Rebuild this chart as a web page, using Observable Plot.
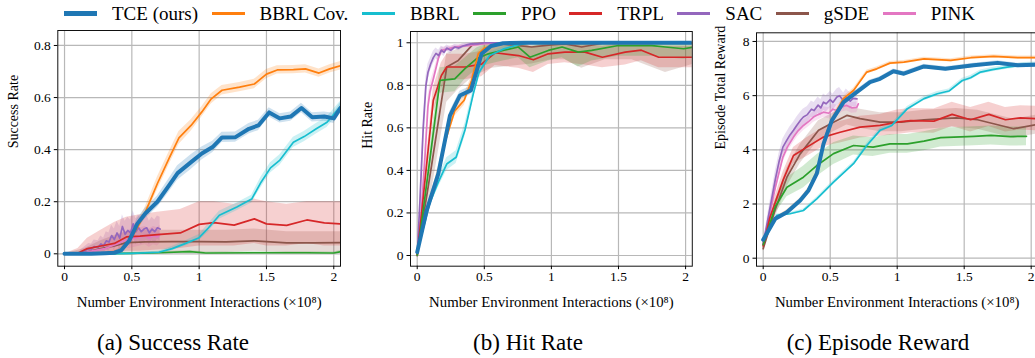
<!DOCTYPE html>
<html><head><meta charset="utf-8">
<script src="https://cdn.jsdelivr.net/npm/d3@7"></script>
<script src="https://cdn.jsdelivr.net/npm/@observablehq/plot@0.6"></script>
<style>
html,body{margin:0;padding:0;background:#fff;}
body{width:1035px;height:358px;overflow:hidden;position:relative;font-family:"Liberation Serif","Times New Roman",serif;color:#000;}
#legend{position:absolute;left:64px;top:0;height:27px;display:flex;align-items:center;gap:13.5px;font-size:19px;white-space:nowrap;}
.item{display:flex;align-items:center;gap:15px;}
.sw{width:33px;}
.panel{position:absolute;top:0;width:360px;height:320px;}
.panel svg{max-width:none !important;}
.panel svg text{font-family:"Liberation Serif","Times New Roman",serif;}
.cap{position:absolute;top:331px;font-size:23px;transform:translateX(-50%);white-space:nowrap;line-height:1;}
</style></head><body>
<div id="legend"></div>
<div id="pa" class="panel" style="left:0px"></div>
<div id="pb" class="panel" style="left:345px"></div>
<div id="pc" class="panel" style="left:690px"></div>
<div class="cap" style="left:173px">(a) Success Rate</div>
<div class="cap" style="left:528px">(b) Hit Rate</div>
<div class="cap" style="left:878px">(c) Episode Reward</div>
<script>
// ---- labels & ticks ----
const methods = ["TCE (ours)", "BBRL Cov.", "BBRL", "PPO", "TRPL", "SAC", "gSDE", "PINK"];
const colors = ["#1f77b4", "#ff7f0e", "#17becf", "#2ca02c", "#d62728", "#9467bd", "#8c564b", "#e377c2"];
const xTicks = [0, 0.5, 1, 1.5, 2];
const successTicks = [0, 0.2, 0.4, 0.6, 0.8];
const hitTicks = [0, 0.2, 0.4, 0.6, 0.8, 1];
const rewardTicks = [0, 2, 4, 6, 8];
const xLabel = "Number Environment Interactions (×10⁸)";
const serif = "'Liberation Serif','Times New Roman',serif";

// rows: [x (1e8), mean, spread]  or  [x, mean, lo, hi]
// ---- (a) Success Rate ----
const successTCE = [[0,0,0.003],[0.1,0,0.003],[0.2,0,0.003],[0.3,0.002,0.004],[0.37,0.004,0.006],[0.42,0.013,0.01],[0.48,0.05,0.015],[0.54,0.115,0.02],[0.6,0.155,0.02],[0.69,0.2,0.022],[0.77,0.258,0.025],[0.84,0.31,0.028],[0.94,0.352,0.028],[1.02,0.385,0.025],[1.1,0.41,0.022],[1.17,0.447,0.02],[1.27,0.448,0.02],[1.37,0.48,0.02],[1.44,0.493,0.02],[1.52,0.543,0.018],[1.6,0.52,0.018],[1.68,0.527,0.018],[1.76,0.56,0.018],[1.84,0.524,0.018],[1.93,0.527,0.018],[2.0,0.52,0.02],[2.05,0.56,0.02]];
const successBBRLCov = [[0,0,0.002],[0.2,0,0.002],[0.3,0.002,0.003],[0.4,0.01,0.008],[0.47,0.04,0.012],[0.54,0.1,0.018],[0.6,0.16,0.02],[0.69,0.27,0.025],[0.78,0.37,0.025],[0.85,0.445,0.025],[0.94,0.493,0.022],[1.02,0.545,0.02],[1.09,0.595,0.02],[1.17,0.628,0.018],[1.3,0.64,0.018],[1.41,0.652,0.018],[1.5,0.69,0.018],[1.58,0.706,0.016],[1.7,0.707,0.016],[1.79,0.71,0.016],[1.89,0.694,0.016],[1.97,0.71,0.016],[2.05,0.722,0.016]];
const successBBRL = [[0,0,0.002],[0.3,0,0.002],[0.5,0.002,0.002],[0.7,0.006,0.004],[0.8,0.02,0.008],[0.9,0.04,0.01],[1.0,0.062,0.012],[1.07,0.1,0.015],[1.15,0.148,0.015],[1.28,0.18,0.015],[1.39,0.21,0.015],[1.46,0.275,0.02],[1.53,0.33,0.02],[1.6,0.36,0.02],[1.7,0.428,0.02],[1.78,0.45,0.02],[1.87,0.48,0.02],[1.95,0.505,0.02],[2.05,0.566,0.02]];
const successPPO = [[0,0,0.002],[0.5,0.002,0.003],[0.7,0.004,0.004],[0.93,0.008,0.005],[1.05,0.003,0.004],[1.4,0.004,0.004],[1.8,0.004,0.004],[2.0,0.003,0.004],[2.05,0.008,0.005]];
const successTRPL = [[0,0,0,0],[0.1,0.003,0,0.02],[0.17,0.02,0,0.06],[0.27,0.03,0,0.09],[0.37,0.04,0,0.12],[0.46,0.065,0.01,0.14],[0.56,0.068,0.01,0.15],[0.69,0.074,0.015,0.16],[0.86,0.08,0.02,0.17],[1.0,0.113,0.03,0.2],[1.11,0.12,0.03,0.2],[1.26,0.11,0.03,0.19],[1.41,0.134,0.04,0.21],[1.5,0.115,0.03,0.2],[1.65,0.109,0.03,0.19],[1.8,0.13,0.04,0.2],[1.93,0.119,0.03,0.2],[2.05,0.115,0.03,0.2]];
const successSAC = [[0.12,0.005,0.01],[0.15,0.012,0.015],[0.18,0.02,0.02],[0.2,0.018,0.02],[0.22,0.028,0.025],[0.25,0.025,0.025],[0.27,0.038,0.03],[0.29,0.03,0.03],[0.31,0.05,0.035],[0.33,0.045,0.035],[0.35,0.07,0.04],[0.37,0.055,0.04],[0.39,0.08,0.045],[0.41,0.06,0.045],[0.43,0.105,0.045],[0.45,0.075,0.05],[0.47,0.09,0.05],[0.49,0.08,0.05],[0.51,0.115,0.05],[0.53,0.085,0.05],[0.55,0.1,0.05],[0.57,0.085,0.05],[0.59,0.095,0.05],[0.61,0.1,0.05],[0.63,0.08,0.045],[0.65,0.095,0.045],[0.67,0.085,0.045],[0.69,0.1,0.045],[0.71,0.095,0.045]];
const successGSDE = [[0,0,0,0],[0.15,0.005,0,0.02],[0.27,0.02,0,0.05],[0.37,0.03,0,0.07],[0.46,0.043,0,0.085],[0.6,0.046,0.005,0.09],[0.8,0.047,0.005,0.09],[1.0,0.047,0.005,0.09],[1.2,0.046,0.005,0.09],[1.41,0.05,0.01,0.095],[1.65,0.042,0.005,0.085],[1.85,0.042,0.005,0.085],[2.05,0.043,0.005,0.085]];
const successPINK = [[0.15,0.005,0.008],[0.2,0.01,0.012],[0.25,0.015,0.015],[0.3,0.02,0.02],[0.35,0.03,0.025],[0.4,0.04,0.03],[0.44,0.05,0.03],[0.48,0.055,0.035],[0.52,0.06,0.035],[0.56,0.065,0.035],[0.6,0.07,0.035],[0.63,0.06,0.035],[0.66,0.07,0.035],[0.69,0.065,0.035],[0.71,0.075,0.035]];

// ---- (b) Hit Rate ----
const hitTCE = [[0,0.016,0.01],[0.07,0.21,0.015],[0.157,0.384,0.02],[0.244,0.658,0.02],[0.318,0.752,0.02],[0.4,0.776,0.02],[0.48,0.948,0.015],[0.55,0.985,0.01],[0.64,0.998,0.005],[0.8,1,0.003],[1.0,1,0.003],[1.5,1,0.003],[2.05,1,0.003]];
const hitBBRLCov = [[0,0.02,0.01],[0.08,0.22,0.02],[0.16,0.4,0.025],[0.21,0.54,0.025],[0.28,0.68,0.025],[0.35,0.73,0.025],[0.405,0.823,0.02],[0.455,0.948,0.015],[0.5,0.975,0.01],[0.6,0.99,0.008],[0.7,1.0,0.005],[2.05,1.0,0.005]];
const hitBBRL = [[0,0.016,0.01],[0.095,0.25,0.02],[0.157,0.345,0.025],[0.22,0.43,0.03],[0.29,0.462,0.03],[0.356,0.59,0.03],[0.418,0.76,0.025],[0.46,0.86,0.02],[0.54,0.94,0.015],[0.64,0.97,0.01],[0.75,0.99,0.008],[0.85,1.0,0.005],[2.05,1.0,0.005]];
const hitPPO = [[0,0,0.01],[0.095,0.455,0.06],[0.17,0.823,0.06],[0.28,0.83,0.06],[0.356,0.878,0.05],[0.443,0.925,0.05],[0.53,0.948,0.05],[0.64,0.964,0.05],[0.754,0.98,0.05],[0.84,0.932,0.05],[0.977,0.964,0.05],[1.08,0.98,0.05],[1.2,0.956,0.07],[1.3,0.964,0.05],[1.5,0.987,0.05],[1.75,0.987,0.05],[1.85,0.98,0.05],[1.985,0.972,0.05],[2.06,0.98,0.05]];
const hitTRPL = [[0,0,0.01],[0.12,0.73,0.06],[0.18,0.846,0.06],[0.22,0.886,0.06],[0.356,0.886,0.06],[0.48,0.9,0.06],[0.58,0.953,0.06],[0.754,0.94,0.06],[0.866,0.92,0.06],[0.977,0.948,0.05],[1.1,0.956,0.05],[1.25,0.956,0.06],[1.38,0.932,0.05],[1.55,0.956,0.06],[1.67,0.965,0.05],[1.8,0.932,0.05],[2.06,0.932,0.05]];
const hitSAC = [[0,0,0.01],[0.02,0.25,0.05],[0.045,0.6,0.05],[0.065,0.8,0.04],[0.08,0.86,0.04],[0.1,0.9,0.03],[0.12,0.93,0.03],[0.14,0.95,0.025],[0.16,0.94,0.025],[0.18,0.965,0.02],[0.2,0.955,0.02],[0.22,0.975,0.015],[0.25,0.965,0.015],[0.28,0.98,0.012],[0.31,0.975,0.012],[0.34,0.985,0.01],[0.37,0.99,0.008],[0.4,0.995,0.005],[0.45,0.995,0.005],[0.5,1.0,0.003],[0.6,1.0,0.003],[0.71,1.0,0.003]];
const hitGSDE = [[0,0,0,0.02],[0.107,0.423,0.3,0.5],[0.22,0.886,0.72,0.95],[0.306,0.917,0.78,0.97],[0.418,0.995,0.84,1],[0.555,1.0,0.88,1],[0.7,0.99,0.89,1],[0.853,0.98,0.9,1],[1.0,0.99,0.92,1],[1.1,0.995,0.92,1],[1.226,0.98,0.88,1],[1.4,1.0,0.92,1],[1.6,1.0,0.92,1],[1.85,1.0,0.86,1],[2.06,1.0,0.9,1]];
const hitPINK = [[0,0,0.01],[0.03,0.2,0.05],[0.057,0.455,0.05],[0.08,0.7,0.04],[0.095,0.77,0.04],[0.12,0.83,0.03],[0.157,0.925,0.02],[0.18,0.964,0.015],[0.22,0.97,0.012],[0.28,0.98,0.01],[0.38,0.987,0.008],[0.5,0.995,0.005],[0.6,1.0,0.003],[0.71,1.0,0.003]];

// ---- (c) Episode Reward ----
const rewardTCE = [[0,0.68,0.05],[0.09,1.455,0.06],[0.177,1.7,0.06],[0.276,2.13,0.08],[0.338,2.5,0.08],[0.4,3.12,0.1],[0.45,4.22,0.12],[0.512,5.08,0.12],[0.6,5.76,0.1],[0.698,6.13,0.1],[0.797,6.5,0.08],[0.872,6.62,0.08],[0.972,6.9,0.08],[1.05,6.81,0.08],[1.2,7.08,0.08],[1.36,6.99,0.08],[1.57,7.12,0.08],[1.75,7.21,0.08],[1.9,7.12,0.08],[2.05,7.14,0.08]];
const rewardBBRLCov = [[0,0.65,0.05],[0.09,1.45,0.06],[0.18,1.72,0.08],[0.28,2.15,0.08],[0.34,2.55,0.08],[0.4,3.15,0.1],[0.45,4.2,0.1],[0.51,5.1,0.1],[0.6,5.9,0.08],[0.674,6.19,0.08],[0.773,6.87,0.07],[0.847,6.99,0.07],[0.946,7.2,0.06],[1.05,7.24,0.06],[1.2,7.36,0.06],[1.4,7.3,0.06],[1.55,7.4,0.06],[1.72,7.45,0.06],[1.9,7.4,0.06],[2.05,7.4,0.06]];
const rewardBBRL = [[0,0.68,0.05],[0.102,1.58,0.05],[0.2,1.64,0.05],[0.3,1.76,0.06],[0.4,2.19,0.06],[0.525,2.81,0.07],[0.674,3.49,0.07],[0.773,4.16,0.08],[0.872,4.72,0.08],[0.96,4.9,0.08],[1.076,5.52,0.08],[1.2,5.89,0.08],[1.3,6.07,0.08],[1.386,6.17,0.08],[1.486,6.56,0.08],[1.548,6.66,0.08],[1.622,6.87,0.08],[1.71,6.96,0.08],[1.82,7.05,0.08],[1.945,7.14,0.08],[2.05,7.17,0.08]];
const rewardPPO = [[0,0.5,0.1],[0.09,1.9,0.25],[0.177,2.62,0.35],[0.3,2.99,0.4],[0.4,3.42,0.4],[0.525,3.86,0.4],[0.674,4.16,0.35],[0.82,4.1,0.35],[0.946,4.22,0.35],[1.076,4.22,0.35],[1.2,4.32,0.35],[1.324,4.45,0.35],[1.572,4.5,0.35],[1.7,4.53,0.35],[1.845,4.49,0.35],[1.965,4.5,0.35]];
const rewardTRPL = [[0,0.45,0.1],[0.05,1.5,0.2],[0.1,2.2,0.25],[0.15,2.9,0.3],[0.226,3.79,0.3],[0.326,4.1,0.35],[0.45,4.47,0.35],[0.574,4.65,0.4],[0.723,4.84,0.4],[0.872,4.9,0.4],[1.0,5.02,0.45],[1.1,5.08,0.45],[1.274,5.06,0.45],[1.41,5.31,0.45],[1.548,5.11,0.45],[1.684,5.31,0.45],[1.808,5.11,0.45],[1.92,5.18,0.45],[2.05,5.15,0.45]];
const rewardSAC = [[0,0.5,0.1],[0.03,1.3,0.2],[0.06,2.1,0.25],[0.09,2.9,0.3],[0.12,3.6,0.3],[0.147,4.1,0.3],[0.17,4.3,0.3],[0.2,4.55,0.3],[0.226,4.72,0.3],[0.25,4.9,0.3],[0.28,5.1,0.3],[0.3,5.21,0.3],[0.33,5.3,0.3],[0.36,5.5,0.3],[0.38,5.45,0.3],[0.41,5.65,0.3],[0.43,5.55,0.3],[0.45,5.76,0.3],[0.47,5.7,0.3],[0.5,5.85,0.3],[0.52,5.75,0.3],[0.55,5.95,0.3],[0.57,6.0,0.3],[0.6,5.8,0.3],[0.62,5.95,0.3],[0.65,5.8,0.3],[0.67,5.9,0.3],[0.7,5.88,0.3]];
const rewardGSDE = [[0,0.35,0.1],[0.09,1.8,0.3],[0.177,2.99,0.35],[0.276,3.85,0.35],[0.413,4.72,0.35],[0.525,5.02,0.35],[0.624,5.27,0.35],[0.723,5.15,0.35],[0.872,5.02,0.35],[1.03,5.02,0.35],[1.2,5.11,0.35],[1.44,5.18,0.35],[1.6,5.11,0.35],[1.87,4.78,0.35],[2.05,4.94,0.35]];
const rewardPINK = [[0,0.55,0.1],[0.03,1.2,0.15],[0.06,1.9,0.2],[0.09,2.6,0.2],[0.12,3.2,0.2],[0.147,3.73,0.2],[0.18,4.1,0.2],[0.226,4.47,0.2],[0.26,4.7,0.2],[0.3,4.9,0.2],[0.34,5.05,0.2],[0.375,5.21,0.2],[0.41,5.3,0.2],[0.45,5.39,0.2],[0.49,5.35,0.2],[0.52,5.5,0.2],[0.55,5.45,0.2],[0.59,5.6,0.2],[0.624,5.64,0.2],[0.66,5.55,0.2],[0.698,5.57,0.2],[0.71,5.7,0.2]];

// ---- build ----
function rows(arr, cap) {
  return arr.map(r => {
    const lo = r.length === 4 ? r[2] : r[1] - r[2];
    let hi = r.length === 4 ? r[3] : r[1] + r[2];
    if (cap != null) hi = Math.min(cap, hi);
    return {x: r[0], y: r[1], lo, hi};
  });
}
const drawOrder = [6, 7, 5, 4, 3, 2, 1, 0]; // TCE drawn last (on top)

function panel(target, cfg) {
  const series = methods.map((m, i) => ({name: m, color: colors[i], w: i === 0 ? 4 : 1.7, data: rows(cfg.sets[i], cfg.cap)}));
  const ordered = drawOrder.map(i => series[i]);
  const plotH = 320, frameBottom = 265.7;
  const el = Plot.plot({
    width: cfg.width, height: plotH,
    marginLeft: cfg.ml, marginRight: 5, marginTop: cfg.mt, marginBottom: plotH - frameBottom,
    x: {domain: [-0.05, 2.05]},
    y: {domain: cfg.yDomain},
    style: {fontFamily: serif, fontSize: "13.5px", color: "#000", background: "transparent", overflow: "visible", maxWidth: "none"},
    marks: [
      Plot.gridX(xTicks, {stroke: "#b8b8b8", strokeOpacity: 1, strokeWidth: 1.2}),
      Plot.gridY(cfg.yTicks, {stroke: "#b8b8b8", strokeOpacity: 1, strokeWidth: 1.2}),
      ...ordered.map(s => Plot.areaY(s.data, {x: "x", y1: "lo", y2: "hi", fill: s.color, fillOpacity: 0.22, clip: true})),
      ...ordered.map(s => Plot.lineY(s.data, {x: "x", y: "y", stroke: s.color, strokeWidth: s.w, clip: true})),
      Plot.frame({stroke: "#111", strokeWidth: 1}),
      Plot.axisX(xTicks, {tickSize: 3.5, tickPadding: 2, tickFormat: d => String(d), label: null, fontFamily: serif, fontSize: 13.5}),
      Plot.axisY(cfg.yTicks, {tickSize: 3.5, tickPadding: 3.5, tickFormat: d => String(d), label: null, fontFamily: serif, fontSize: 13.5}),
      Plot.text([xLabel], {frameAnchor: "bottom", dy: 41, fontSize: 14.8, fontFamily: serif, text: d => d}),
      Plot.text([cfg.yLabel], {frameAnchor: "left", dx: cfg.ylx, rotate: -90, fontSize: 14, fontFamily: serif, text: d => d})
    ]
  });
  document.getElementById(target).appendChild(el);
}

panel("pa", {sets: [successTCE, successBBRLCov, successBBRL, successPPO, successTRPL, successSAC, successGSDE, successPINK],
  yDomain: [-0.0476, 0.8575], yTicks: successTicks, yLabel: "Success Rate", width: 345, ml: 57.3, mt: 30, ylx: -44});
panel("pb", {sets: [hitTCE, hitBBRLCov, hitBBRL, hitPPO, hitTRPL, hitSAC, hitGSDE, hitPINK], cap: 1,
  yDomain: [-0.0503, 1.053], yTicks: hitTicks, yLabel: "Hit Rate", width: 351.8, ml: 65, mt: 31, ylx: -43});
panel("pc", {sets: [rewardTCE, rewardBBRLCov, rewardBBRL, rewardPPO, rewardTRPL, rewardSAC, rewardGSDE, rewardPINK],
  yDomain: [-0.295, 8.32], yTicks: rewardTicks, yLabel: "Episode Total Reward", width: 352.4, ml: 66, mt: 32.3, ylx: -36});

// legend
const legend = document.getElementById("legend");
methods.forEach((m, i) => {
  const item = document.createElement("div"); item.className = "item";
  const sw = document.createElement("div"); sw.className = "sw";
  sw.style.height = (i === 0 ? 5 : 2.6) + "px"; sw.style.background = colors[i];
  const t = document.createElement("span"); t.textContent = m;
  item.appendChild(sw); item.appendChild(t); legend.appendChild(item);
});
</script>
</body></html>
